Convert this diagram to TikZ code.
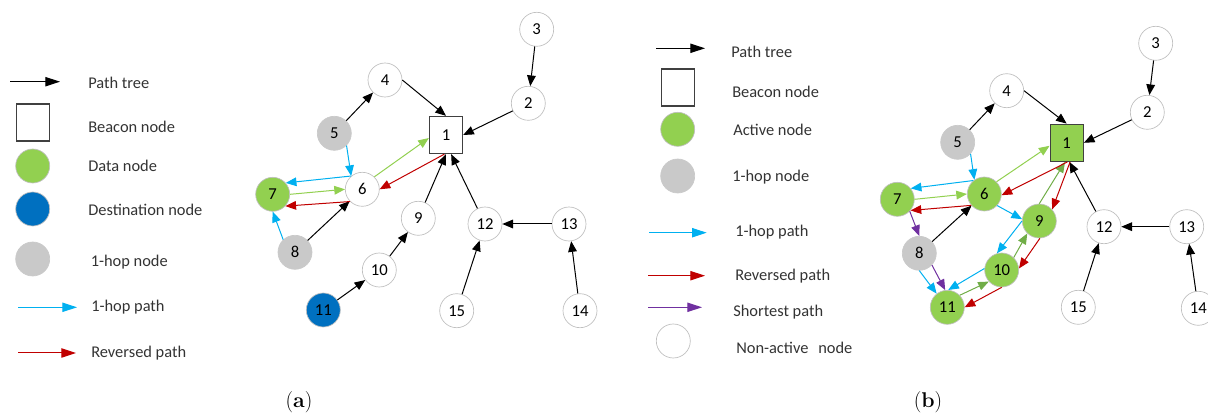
\documentclass[tikz,border=0pt]{standalone}
\usepackage{fontspec}
\setsansfont{Carlito}
\usetikzlibrary{arrows.meta}
\definecolor{datagreen}{RGB}{146,208,80}
\definecolor{pathgreen}{RGB}{112,173,71}
\definecolor{hopcyan}{RGB}{0,176,240}
\definecolor{revred}{RGB}{192,0,0}
\definecolor{shortpurple}{RGB}{112,48,160}
\definecolor{destblue}{RGB}{0,112,192}
\definecolor{hopgray}{RGB}{201,201,201}
\definecolor{rimgray}{RGB}{191,191,191}
\begin{document}
\begin{tikzpicture}[x=0.75pt,y=0.75pt,yscale=-1,
  nd/.style={circle,draw=rimgray,line width=0.5pt,fill=white,minimum size=25.5pt,inner sep=0pt,font=\sffamily\fontsize{12.5}{14}\selectfont},
  datand/.style={nd,fill=datagreen},
  hopnd/.style={nd,fill=hopgray,draw=hopgray},
  destnd/.style={nd,fill=destblue},
  beacon/.style={rectangle,draw=black!75,line width=1pt,minimum width=24.75pt,minimum height=27.75pt,inner sep=0pt,font=\sffamily\fontsize{12.5}{14}\selectfont},
  tree/.style={-{Triangle[length=8pt,width=6.5pt]},line width=0.75pt},
  hop/.style={tree,hopcyan},
  rev/.style={tree,revred},
  fwd/.style={tree,datagreen},
  back/.style={tree,pathgreen},
  sp/.style={tree,shortpurple},
  legarr/.style={-{Triangle[length=11pt,width=7pt]},line width=0.75pt},
  lbl/.style={anchor=west,inner sep=0pt,font=\sffamily\fontsize{12.3}{14}\selectfont,text=black!80},
  captxt/.style={font=\rmfamily\fontsize{16}{18}\selectfont}]
\useasboundingbox (0,0) rectangle (1208,416);

%%%%%%%%%% (a) legend
\coordinate (pta0) at (10,81.7); \coordinate (pta1) at (60,81.7);
\draw [legarr] (pta0) -- (pta1);
\node [beacon] (lba) at (33,122.5) {};
\node [datand] (lda) at (32.7,166) {};
\node [destnd] (lta) at (32.7,209) {};
\node [hopnd] (lha) at (32.7,259) {};
\coordinate (hpa0) at (18,307.3); \coordinate (hpa1) at (77,307.3);
\draw [legarr,hopcyan] (hpa0) -- (hpa1);
\coordinate (rpa0) at (18,353); \coordinate (rpa1) at (76,353);
\draw [legarr,revred] (rpa0) -- (rpa1);
% Text Node
\node [lbl] (tpta) at (88,83) {Path tree};
\node [lbl] (tlba) at (88,126.5) {Beacon node};
\node [lbl] (tlda) at (88,166) {Data node};
\node [lbl] (tlta) at (88,209.5) {Destination node};
\node [lbl] (tlha) at (90.5,262) {1-hop node};
\node [lbl] (thpa) at (91,307) {1-hop path};
\node [lbl] (trpa) at (91,353) {Reversed path};

%%%%%%%%%% (a) graph
\node [beacon] (n1a) at (446,135) {1};
\node [nd] (n2a) at (528.3,103.3) {2};
\node [nd] (n3a) at (536.7,29.3) {3};
\node [nd] (n4a) at (385,80) {4};
\node [hopnd] (n5a) at (334.3,133.3) {5};
\node [nd] (n6a) at (362.3,189.3) {6};
\node [datand] (n7a) at (272.7,194.3) {7};
\node [hopnd] (n8a) at (295,252.3) {8};
\node [nd] (n9a) at (418.3,218.3) {9};
\node [nd] (n10a) at (379.3,270) {10};
\node [destnd] (n11a) at (323.3,310) {11};
\node [nd] (n12a) at (485,224) {12};
\node [nd] (n13a) at (569,224) {13};
\node [nd] (n14a) at (580,310.7) {14};
\node [nd] (n15a) at (456.7,310.7) {15};
%Path tree
\draw [tree] (n3a) -- (n2a);
\draw [tree] (n2a) -- (n1a.east);
\draw [tree] (n4a.east) -- (n1a.north);
\draw [tree] (n5a) -- (n4a);
\draw [tree] (n8a) -- (n6a);
\draw [tree] (n9a) -- (n1a.-90);
\draw [tree] (n10a) -- (n9a);
\draw [tree] (n11a) -- (n10a);
\draw [tree] (n12a) -- (n1a.-75);
\draw [tree] (n13a) -- (n12a);
\draw [tree] (n14a) -- (n13a);
\draw [tree] (n15a) -- (n12a);
%1-hop, data and reversed paths
\draw [hop] (n5a.-45) -- (n6a.130);
\draw [hop] (n6a.130) -- (n7a.41);
\draw [hop] (n8a.133) -- (n7a.south);
\draw [fwd] (n7a.0) -- (n6a.180);
\draw [fwd] (n6a.46) -- (n1a.190);
\draw [rev] (n1a.-95) -- (n6a.east);
\draw [rev] (n6a.225) -- (n7a.-43);

\node [captxt] (capa) at (299,402) {(\textbf{a})};

%%%%%%%%%% (b) legend
\coordinate (ptb0) at (656,48.3); \coordinate (ptb1) at (705,48.3);
\draw [legarr] (ptb0) -- (ptb1);
\node [beacon] (lbb) at (678,87.5) {};
\node [datand] (ldb) at (677.7,129.3) {};
\node [hopnd] (lhb) at (677.7,176) {};
\coordinate (hpb0) at (649.3,232.7); \coordinate (hpb1) at (706.7,232.7);
\draw [legarr,hopcyan] (hpb0) -- (hpb1);
\coordinate (rpb0) at (648,275.7); \coordinate (rpb1) at (705,275.7);
\draw [legarr,revred] (rpb0) -- (rpb1);
\coordinate (spb0) at (648,307.3); \coordinate (spb1) at (702,307.3);
\draw [legarr,shortpurple] (spb0) -- (spb1);
\node [nd] (lnb) at (673.3,341) {};
% Text Node
\node [lbl] (tptb) at (731,51.5) {Path tree};
\node [lbl] (tlbb) at (732,91.5) {Beacon node};
\node [lbl] (tldb) at (733,129.5) {Active node};
\node [lbl] (tlhb) at (732,177.5) {1-hop node};
\node [lbl] (thpb) at (735,232) {1-hop path};
\node [lbl] (trpb) at (735,276) {Reversed path};
\node [lbl] (tspb) at (733,312) {Shortest path};
\node [lbl] (tlnb) at (736,348) {Non-active\hspace{0.6em}node};

%%%%%%%%%% (b) graph
\node [beacon,fill=datagreen] (n1b) at (1066.7,142.8) {1};
\node [nd] (n2b) at (1147.3,112.3) {2};
\node [nd] (n3b) at (1155.7,43.3) {3};
\node [nd] (n4b) at (1006.7,90.7) {4};
\node [hopnd] (n5b) at (957.7,142.3) {5};
\node [datand] (n6b) at (984.3,194) {6};
\node [datand] (n7b) at (897.3,199.3) {7};
\node [hopnd] (n8b) at (919.3,253.3) {8};
\node [datand] (n9b) at (1039.3,221) {9};
\node [datand] (n10b) at (1001.7,270) {10};
\node [datand] (n11b) at (947.3,307.3) {11};
\node [nd] (n12b) at (1104,226.7) {12};
\node [nd] (n13b) at (1186.7,226.7) {13};
\node [nd] (n14b) at (1198.3,308.3) {14};
\node [nd] (n15b) at (1078.3,307.3) {15};
%Path tree
\draw [tree] (n3b) -- (n2b);
\draw [tree] (n2b) -- (n1b.east);
\draw [tree] (n4b.east) -- (n1b.north);
\draw [tree] (n5b) -- (n4b);
\draw [tree] (n8b) -- (n6b);
\draw [tree] (n12b) -- (n1b.-82);
\draw [tree] (n13b) -- (n12b);
\draw [tree] (n14b) -- (n13b);
\draw [tree] (n15b) -- (n12b);
%1-hop paths
\draw [hop] (n5b.-42) -- (n6b.125);
\draw [hop] (n6b.129) -- (n7b.39);
\draw [hop] (n6b.-42) -- (n9b.174);
\draw [hop] (n9b.180) -- (n10b.106);
\draw [hop] (n10b.175) -- (n11b.87);
\draw [hop] (n8b.south) -- (n11b.128);
%Data paths
\draw [fwd] (n7b.0) -- (n6b.180);
\draw [fwd] (n6b.45) -- (n1b.190);
\draw [back] (n11b.44) -- (n10b.222);
\draw [back] (n10b.46) -- (n9b.226);
\draw [back] (n9b.north) -- (n1b.-95);
%Reversed paths
\draw [rev] (n1b.-88) -- (n6b.-4);
\draw [rev] (n6b.221) -- (n7b.-40);
\draw [rev] (n1b.-80) -- (n9b.42);
\draw [rev] (n9b.-88) -- (n10b.5);
\draw [rev] (n10b.south) -- (n11b.east);
%Shortest path
\draw [sp] (n7b.-44) -- (n8b.north);
\draw [sp] (n8b.-43) -- (n11b.97);

\node [captxt] (capb) at (928,402) {(\textbf{b})};
\end{tikzpicture}
\end{document}
